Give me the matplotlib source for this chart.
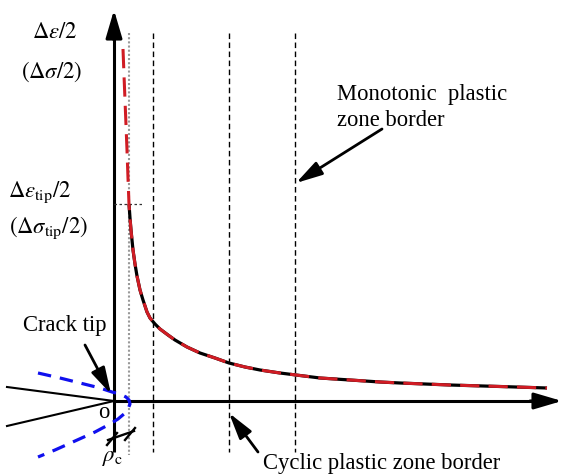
import matplotlib
matplotlib.use("Agg")
import matplotlib.pyplot as plt

plt.rcParams['font.family'] = ['Liberation Serif', 'DejaVu Serif']
plt.rcParams['mathtext.fontset'] = 'stix'

# ---- geometry of the schematic (pixel-like data coordinates, y downwards) ----
origin = (114, 401)
y_axis_top = 10
y_axis_bottom = 452
x_axis_right = 562

# strain/stress distribution ahead of crack tip (black solid)
curve_x = [129, 130, 131, 133, 135, 137, 140, 143, 147, 150, 155, 160, 168, 175, 187, 200, 215, 229, 245, 260, 280, 296, 320, 350, 380, 400, 450, 500, 547]
curve_y = [204, 218, 230, 250, 264, 276, 290, 300, 312, 318, 324, 329, 335, 340, 347, 353, 358, 363, 367, 370, 373, 375, 378, 380, 382, 383, 385, 386.5, 388]

# HRR-type singular field (red dashed), extends to top
red_x = [123, 124, 125, 126, 127, 128, 129] + curve_x[1:]
red_y = [49, 75, 100, 125, 150, 178, 204] + curve_y[1:]

# cyclic plastic zone around tip (blue dashed)
blue_x = [38, 60, 80, 100, 112, 120, 126, 129, 130, 128, 124, 118, 110, 95, 75, 55, 38]
blue_y = [373, 378, 383, 388, 392, 394, 397, 400, 404, 409, 414, 419, 424, 432, 441, 450, 457]

# crack faces
crack_upper = ([7, 114], [387, 401])
crack_lower = ([7, 114], [426, 401])

# vertical borders
rho_x = 129
border_x = [153, 229, 295]
border_top = 33
border_bottom = 452
tip_level_y = 204

fig = plt.figure(figsize=(5.63, 4.74), dpi=100)
ax = fig.add_axes([0, 0, 1, 1])
ax.set_xlim(0, 563)
ax.set_ylim(474, 0)
ax.axis('off')

# axes
ax.plot([origin[0], origin[0]], [y_axis_bottom, 30], color='k', lw=2.2, solid_capstyle='butt')
ax.annotate('', xy=(origin[0], y_axis_top), xytext=(origin[0], 40),
            arrowprops=dict(arrowstyle='-|>,head_length=0.85,head_width=0.25', color='k', lw=2.2,
                            mutation_scale=20, shrinkA=0, shrinkB=0))
ax.plot([origin[0], 545], [origin[1], origin[1]], color='k', lw=2.2, solid_capstyle='butt')
ax.annotate('', xy=(x_axis_right, origin[1]), xytext=(530, origin[1]),
            arrowprops=dict(arrowstyle='-|>,head_length=0.85,head_width=0.25', color='k', lw=2.2,
                            mutation_scale=20, shrinkA=0, shrinkB=0))

# vertical reference lines
ax.plot([rho_x, rho_x], [border_top, 455], color='#999999', lw=1.5, linestyle=(0, (1.0, 1.0)))
for bx in border_x:
    ax.plot([bx, bx], [border_top, border_bottom], color='k', lw=1.0, linestyle=(0, (4, 2.5)))
ax.plot([origin[0], 143], [tip_level_y, tip_level_y], color='#333333', lw=0.9, linestyle=(0, (2, 2)))

# curves
ax.plot(curve_x, curve_y, color='k', lw=2.3, solid_capstyle='butt')
ax.plot(red_x, red_y, color='#d01c24', lw=2.2, linestyle=(0, (6.3, 3.0)))

# crack faces
ax.plot(*crack_upper, color='k', lw=1.5)
ax.plot(*crack_lower, color='k', lw=1.5)

# cyclic zone outline
ax.plot(blue_x, blue_y, color='#1010ee', lw=2.3, linestyle=(0, (4.2, 2.8)))

# rho_c dimension marker
ax.plot([108, 134], [440, 431], color='k', lw=1.7)
ax.plot([107, 117], [445, 433], color='k', lw=1.7)
ax.plot([125, 135], [440, 428], color='k', lw=1.7)

# annotation arrows
arrow_kw = dict(arrowstyle='-|>,head_length=0.8,head_width=0.22', color='k', lw=2.0,
                mutation_scale=20, shrinkA=0, shrinkB=0)
ax.annotate('', xy=(111, 394), xytext=(85, 345), arrowprops=arrow_kw)
ax.annotate('', xy=(229, 413), xytext=(258, 452), arrowprops=arrow_kw)
ax.annotate('', xy=(296, 183), xytext=(382, 129), arrowprops=arrow_kw)

# texts
fs = 16.3
ax.text(55, 38, r'$\Delta\varepsilon/2$', fontsize=fs, ha='center', va='baseline')
ax.text(52, 78, r'$(\Delta\sigma/2)$', fontsize=fs, ha='center', va='baseline')
ax.text(40, 197, r'$\Delta\varepsilon_{\rm tip}/2$', fontsize=fs, ha='center', va='baseline')
ax.text(48, 233, r'$(\Delta\sigma_{\rm tip}/2)$', fontsize=fs, ha='center', va='baseline')
ax.text(65, 331, 'Crack tip', fontsize=fs, ha='center', va='baseline')
ax.text(104, 418, 'o', fontsize=fs, ha='center', va='baseline')
ax.text(102, 461, r'$\rho_{\rm c}$', fontsize=fs, ha='left', va='baseline')
ax.text(263, 469, 'Cyclic plastic zone border', fontsize=fs, ha='left', va='baseline')
ax.text(337, 100, 'Monotonic  plastic', fontsize=fs, ha='left', va='baseline')
ax.text(337, 126, 'zone border', fontsize=fs, ha='left', va='baseline')

fig.savefig('out.png', dpi=100)
